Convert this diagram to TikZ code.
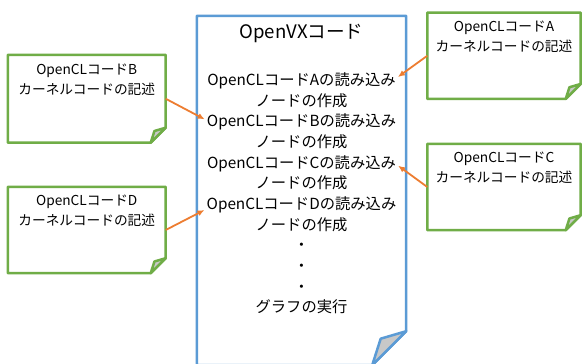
\documentclass[tikz,border=0pt]{standalone}
\usepackage{fontspec}
\setmainfont{Noto Sans CJK JP}
\usetikzlibrary{arrows.meta,positioning,calc}
\definecolor{vxblue}{HTML}{5B9BD5}
\definecolor{clgreen}{HTML}{70AD47}
\definecolor{linkorange}{HTML}{ED7D31}
\definecolor{foldgray}{HTML}{C8C8C8}

% frame node, colour, fold size
\newcommand{\foldnote}[3]{%
  \draw[#2,line width=2.5pt,line join=round]
    (#1.north west) -- (#1.north east) -- ([yshift=#3]#1.south east)
    -- ([xshift=-#3]#1.south east) -- (#1.south west) -- cycle;
  \draw[#2,line width=2.5pt,line join=round,fill=foldgray]
    ([yshift=#3]#1.south east) -- ([xshift=-0.75*#3,yshift=0.78*#3]#1.south east)
    -- ([xshift=-#3]#1.south east) -- cycle;
}

\begin{document}
\begin{tikzpicture}[x=1pt,y=-1pt,node distance=0pt,
  vxframe/.style={minimum width=209pt,minimum height=349pt,inner sep=0pt},
  noteframe/.style={minimum width=153pt,minimum height=86pt,inner sep=0pt},
  notetext/.style={font=\fontsize{13.7}{20}\selectfont,align=center,inner sep=0pt},
  vxline/.style={font=\fontsize{15.3}{18}\selectfont,inner sep=2pt,minimum height=20.27pt,text height=11pt,text depth=4pt},
  link/.style={linkorange,line width=1.8pt,-{Latex[length=7pt,width=6pt]}}]
\useasboundingbox (0,0) rectangle (582,364);
\clip (0,0) rectangle (582,364);
\fill[white] (0,0) rectangle (582,364);

% OpenVX code
\node[vxframe] (vx) at (301.5,190.5) {};
\foldnote{vx}{vxblue}{34pt}
\node[font=\fontsize{18.6}{22}\selectfont] (title) at (301.5,33.5) {OpenVXコード};
\node[vxline] (loadA) at (301.5,82) {OpenCLコードAの読み込み};
\node[vxline,below=of loadA] (makeA) {ノードの作成};
\node[vxline,below=of makeA] (loadB) {OpenCLコードBの読み込み};
\node[vxline,below=of loadB] (makeB) {ノードの作成};
\node[vxline,below=of makeB] (loadC) {OpenCLコードCの読み込み};
\node[vxline,below=of loadC] (makeC) {ノードの作成};
\node[vxline,below=of makeC] (loadD) {OpenCLコードDの読み込み};
\node[vxline,below=of loadD] (makeD) {ノードの作成};
\node[vxline,below=of makeD] (dotA) {・};
\node[vxline,below=of dotA] (dotB) {・};
\node[vxline,below=of dotB] (dotC) {・};
\node[vxline,below=of dotC] (run) {グラフの実行};

% OpenCL kernels
\node[noteframe] (clA) at (504,55.75) {};
\foldnote{clA}{clgreen}{15pt}
\node[notetext] (textA) at ([yshift=-24pt]clA.north) {OpenCLコードA\\カーネルコードの記述};
\node[noteframe,minimum width=157.5pt,minimum height=87.5pt] (clB) at (86.75,98.75) {};
\foldnote{clB}{clgreen}{15pt}
\node[notetext] (textB) at ([yshift=-25pt]clB.north) {OpenCLコードB\\カーネルコードの記述};
\node[noteframe] (clC) at (504,187) {};
\foldnote{clC}{clgreen}{15pt}
\node[notetext] (textC) at ([yshift=-24pt]clC.north) {OpenCLコードC\\カーネルコードの記述};
\node[noteframe,minimum width=157.5pt] (clD) at (86.75,230) {};
\foldnote{clD}{clgreen}{15pt}
\node[notetext] (textD) at ([yshift=-24pt]clD.north) {OpenCLコードD\\カーネルコードの記述};

\draw[link] (clA.west) -- ([yshift=5pt]loadA.east);
\draw[link] (clB.east) -- ([yshift=4pt]loadB.west);
\draw[link] (clC.west) -- ([yshift=-1pt]loadC.east);
\draw[link] (clD.east) -- ([yshift=-4pt]loadD.west);
\end{tikzpicture}
\end{document}
